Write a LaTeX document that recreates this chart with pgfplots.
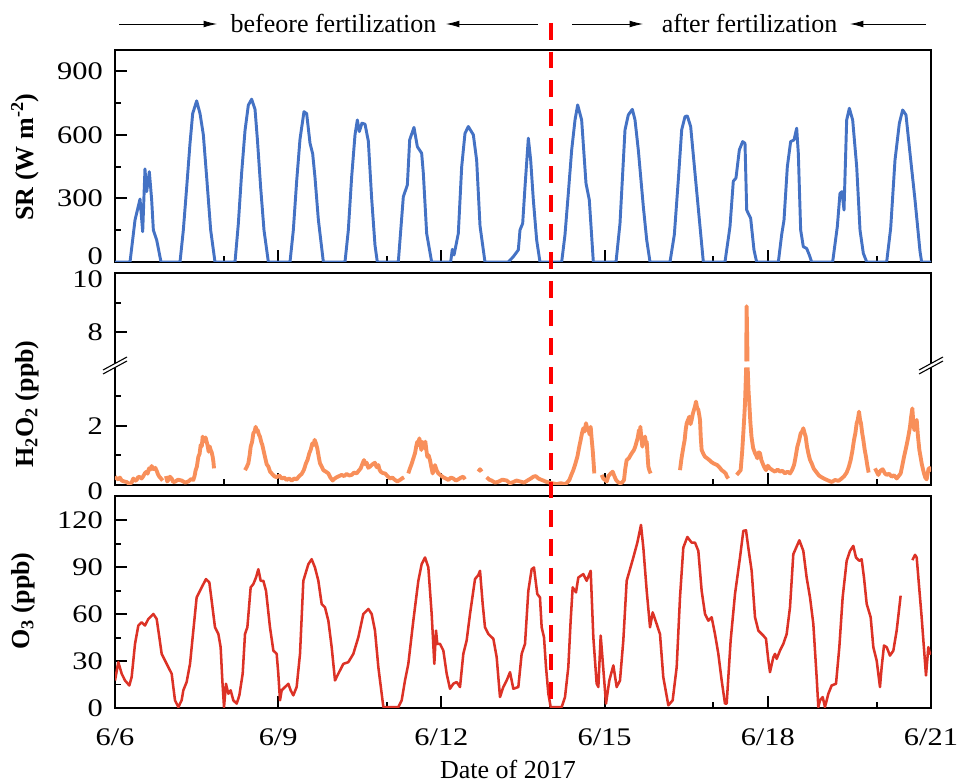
\documentclass[border=0pt]{standalone}
\usepackage{pgfplots}
\pgfplotsset{compat=1.18}
\usepackage{graphicx}
\usepackage{fontspec}
\setmainfont{Liberation Serif}
\usetikzlibrary{arrows.meta}

\definecolor{srblue}{RGB}{68,114,196}
\definecolor{hoorange}{RGB}{248,143,90}
\definecolor{othree}{RGB}{220,50,38}

\newcommand{\lbl}{\fontsize{19.5}{23}\selectfont}
% tick labels: the reference digits are set wide
\newcommand{\tl}[1]{\scalebox{1.2}[1]{#1}}

\pgfplotsset{
  panel/.style={
    scale only axis, width=612pt, height=159pt,
    anchor=south west,
    xmin=0, xmax=15,
    xtick={0,3,6,9,12,15}, minor xtick={2,5,8,11,14},
    tick pos=left, tick align=inside,
    major tick length=9pt, minor tick length=4.5pt,
    tick style={black, line width=1.4pt},
    axis line style={line width=1.6pt},
    tick label style={font=\fontsize{19}{22}\selectfont, inner sep=0pt},
    yticklabel style={anchor=east, xshift=-9pt},
    xticklabel style={yshift=-15pt},
    xticklabels={},
    unbounded coords=jump,
  }
}

\begin{document}
\begin{tikzpicture}
\useasboundingbox (0,0) rectangle (718.5pt,587.25pt);

% SR
\begin{axis}[panel, at={(86.25pt,390.75pt)},
  ymin=0, ymax=1000, ytick={300,600,900}, minor ytick={150,450,750},
  yticklabels={\tl{300},\tl{600},\tl{900}},
  extra y ticks={0}, extra y tick labels={\tl{0}},
  extra y tick style={yticklabel style={yshift=4.5pt}}]
\addplot[srblue, line width=2.2pt, line join=round] coordinates {
(0,0)(0.276,0)(0.368,198)(0.460,297)(0.509,143)(0.551,439)(0.582,332)(0.631,426)(0.674,293)(0.705,151)(0.766,104)(0.846,0)
(1.195,0)(1.256,150)(1.317,350)(1.379,560)(1.428,700)(1.501,760)(1.563,700)(1.624,600)(1.685,400)(1.759,150)(1.838,0)
(2.206,0)(2.267,180)(2.328,420)(2.390,620)(2.451,740)(2.512,768)(2.574,720)(2.617,580)(2.678,350)(2.739,150)(2.819,0)
(3.217,0)(3.278,150)(3.339,380)(3.401,580)(3.474,709)(3.523,700)(3.585,560)(3.634,510)(3.676,400)(3.738,200)(3.830,0)
(4.228,0)(4.289,150)(4.350,400)(4.412,600)(4.455,670)(4.491,615)(4.540,655)(4.596,650)(4.657,570)(4.718,300)(4.779,80)(4.822,0)
(5.208,0)(5.300,308)(5.374,363)(5.417,576)(5.496,635)(5.558,544)(5.637,513)(5.668,418)(5.729,135)(5.821,0)
(6.170,0)(6.201,60)(6.232,33)(6.311,135)(6.373,450)(6.434,607)(6.495,639)(6.587,600)(6.648,480)(6.710,170)(6.801,0)
(7.230,0)(7.322,25)(7.414,57)(7.445,151)(7.494,182)(7.537,355)(7.598,584)(7.641,481)(7.690,293)(7.751,104)(7.812,0)
(8.211,0)(8.272,129)(8.333,324)(8.395,529)(8.456,670)(8.505,741)(8.578,670)(8.658,371)(8.719,293)(8.793,0)
(9.210,0)(9.283,182)(9.375,623)(9.436,694)(9.510,720)(9.559,670)(9.620,528)(9.712,261)(9.774,104)(9.835,0)
(10.202,0)(10.282,129)(10.355,387)(10.417,623)(10.478,686)(10.521,689)(10.582,639)(10.662,418)(10.754,167)(10.815,0)
(11.213,0)(11.305,167)(11.366,381)(11.415,396)(11.477,529)(11.538,568)(11.581,560)(11.612,245)(11.685,206)(11.746,57)(11.795,0)
(12.194,0)(12.255,129)(12.298,198)(12.359,449)(12.420,568)(12.482,576)(12.531,631)(12.561,513)(12.604,151)(12.653,72)(12.714,64)(12.763,33)(12.806,0)
(13.192,0)(13.278,167)(13.327,324)(13.364,332)(13.401,245)(13.450,670)(13.499,725)(13.560,670)(13.634,450)(13.695,151)(13.756,41)(13.818,0)
(14.185,0)(14.259,160)(14.338,480)(14.418,654)(14.479,717)(14.540,694)(14.614,513)(14.706,293)(14.798,50)(14.828,0)(15,0)
};
\end{axis}

% H2O2 (broken axis: values above 6.9 are drawn 2.86 lower)
\begin{axis}[panel, at={(86.25pt,223.5pt)},
  ymin=0, ymax=7.14, ytick={2,5.14}, yticklabels={\tl{2},\tl{8}},
  minor ytick={1,3,6.14},
  extra y ticks={0,7.14}, extra y tick labels={\tl{0},\tl{10}},
  extra y tick style={yticklabel style={yshift=-5pt}}]
\addplot[hoorange, line width=2.9pt, line join=round] coordinates {
(0.000,0.28)(0.030,0.22)(0.061,0.19)(0.090,0.25)(0.123,0.15)(0.170,0.12)(0.214,0.10)(0.260,0.04)(0.306,0.08)(0.320,0.15)(0.337,0.22)(0.365,0.14)(0.398,0.17)(0.430,0.28)(0.460,0.26)(0.490,0.22)(0.521,0.30)(0.550,0.40)(0.582,0.45)(0.600,0.38)(0.625,0.56)(0.650,0.52)(0.674,0.64)(0.695,0.55)(0.717,0.53)(0.740,0.58)(0.766,0.48)(0.790,0.36)(0.815,0.28)(0.845,0.22)(0.876,0.15)
(0.90,nan)
(0.938,0.30)(0.960,0.12)(0.980,0.17)(1.010,0.28)(1.042,0.22)(1.070,0.10)(1.103,0.11)(1.160,0.18)(1.225,0.15)(1.290,0.08)(1.348,0.12)(1.400,0.20)(1.440,0.17)(1.462,0.30)(1.483,0.50)(1.505,0.62)(1.532,0.95)(1.555,1.05)(1.575,1.35)(1.595,1.30)(1.612,1.63)(1.628,1.45)(1.642,1.52)(1.665,1.60)(1.685,1.46)(1.705,1.30)(1.722,1.12)(1.740,1.30)(1.759,1.18)(1.778,1.10)(1.795,0.95)(1.808,0.80)(1.820,0.56)
(2.0,nan)
(2.390,0.50)(2.420,0.60)(2.451,0.73)(2.475,1.00)(2.494,1.29)(2.520,1.45)(2.543,1.74)(2.565,1.80)(2.586,1.96)(2.605,1.80)(2.623,1.85)(2.645,1.70)(2.665,1.63)(2.688,1.45)(2.708,1.35)(2.732,1.15)(2.757,0.95)(2.788,0.70)(2.819,0.62)(2.850,0.45)(2.880,0.39)(2.925,0.30)(2.972,0.26)(3.020,0.32)(3.064,0.22)(3.110,0.25)(3.156,0.17)(3.200,0.22)(3.248,0.15)(3.295,0.22)(3.339,0.19)(3.385,0.30)(3.431,0.37)(3.470,0.50)(3.511,0.73)(3.540,0.85)(3.572,1.07)(3.600,1.20)(3.627,1.40)(3.650,1.35)(3.670,1.52)(3.695,1.40)(3.719,1.23)(3.745,0.95)(3.768,0.73)(3.800,0.62)(3.830,0.50)(3.875,0.45)(3.922,0.39)(3.960,0.25)(4.002,0.15)(4.040,0.22)(4.075,0.26)(4.120,0.30)(4.167,0.34)(4.210,0.30)(4.259,0.37)(4.305,0.32)(4.350,0.34)(4.395,0.42)(4.442,0.39)(4.480,0.48)(4.516,0.56)(4.545,0.70)(4.577,0.84)(4.600,0.70)(4.626,0.75)(4.655,0.58)(4.688,0.62)(4.735,0.70)(4.779,0.75)(4.810,0.60)(4.841,0.67)(4.862,0.52)(4.884,0.45)(4.925,0.40)(4.963,0.39)(5.010,0.30)(5.055,0.22)(5.100,0.25)(5.147,0.17)(5.190,0.12)(5.239,0.17)(5.275,0.22)(5.312,0.26)
(5.35,nan)
(5.392,0.39)(5.420,0.55)(5.453,0.71)(5.485,0.90)(5.515,1.07)(5.537,1.30)(5.558,1.46)(5.575,1.35)(5.594,1.57)(5.612,1.40)(5.631,1.18)(5.650,1.45)(5.668,1.40)(5.685,1.25)(5.705,1.46)(5.722,1.20)(5.741,0.95)(5.765,1.00)(5.790,0.84)(5.815,0.60)(5.839,0.39)(5.860,0.50)(5.882,0.67)(5.912,0.50)(5.944,0.39)(5.990,0.32)(6.036,0.26)(6.080,0.22)(6.127,0.17)(6.175,0.25)(6.219,0.22)(6.265,0.15)(6.311,0.19)(6.360,0.25)(6.403,0.28)(6.434,0.19)
(6.55,nan)
(6.679,0.45)(6.710,0.53)(6.740,0.45)
(6.78,nan)
(6.832,0.26)(6.880,0.18)(6.924,0.15)(6.985,0.08)(7.047,0.11)(7.120,0.18)(7.200,0.15)(7.260,0.06)(7.322,0.10)(7.380,0.15)(7.445,0.12)(7.520,0.08)(7.598,0.17)(7.645,0.22)(7.690,0.28)(7.735,0.30)(7.782,0.22)(7.830,0.18)(7.874,0.15)(7.935,0.10)(7.996,0.08)(8.060,0.05)(8.119,0.03)(8.195,0.06)(8.272,0.03)(8.312,0.08)(8.352,0.17)(8.390,0.35)(8.425,0.50)(8.460,0.70)(8.499,0.95)(8.530,1.25)(8.560,1.52)(8.585,1.75)(8.609,1.91)(8.632,1.80)(8.658,2.08)(8.682,1.90)(8.707,1.85)(8.725,1.70)(8.744,1.96)(8.762,1.55)(8.781,1.18)(8.796,0.80)(8.811,0.39)
(8.88,nan)
(8.946,0.34)(8.975,0.22)(9.007,0.17)(9.040,0.12)(9.069,0.30)(9.108,0.38)(9.148,0.45)(9.180,0.30)(9.210,0.17)(9.245,0.10)(9.283,0.06)(9.320,0.08)(9.357,0.17)(9.380,0.55)(9.406,0.84)(9.445,0.90)(9.479,1.01)(9.510,1.10)(9.540,1.18)(9.565,1.30)(9.589,1.46)(9.610,1.60)(9.632,1.85)(9.645,1.70)(9.657,1.96)(9.675,1.60)(9.694,1.29)(9.720,1.50)(9.743,1.63)(9.760,1.40)(9.774,1.46)(9.790,1.00)(9.804,0.62)(9.825,0.48)(9.847,0.39)
(10.1,nan)
(10.386,0.50)(10.410,0.85)(10.429,1.07)(10.450,1.30)(10.472,1.52)(10.490,1.85)(10.509,2.08)(10.535,2.20)(10.558,2.30)(10.580,2.05)(10.600,2.19)(10.622,2.40)(10.643,2.53)(10.662,2.65)(10.680,2.81)(10.700,2.60)(10.723,2.53)(10.740,2.35)(10.754,2.19)(10.768,1.60)(10.784,1.18)(10.815,1.05)(10.846,0.95)(10.885,0.90)(10.925,0.84)(10.960,0.78)(10.999,0.73)(11.035,0.70)(11.072,0.67)(11.110,0.60)(11.152,0.50)(11.190,0.45)(11.226,0.39)(11.250,0.28)(11.275,0.22)
(11.35,nan)
(11.428,0.34)(11.465,0.42)(11.501,0.50)(11.528,1.10)(11.550,1.74)(11.568,2.30)(11.581,2.75)(11.603,3.96)
(11.604,nan)
(11.603,4.16)(11.611,6.02)(11.628,4.16)
(11.629,nan)
(11.630,3.96)(11.645,3.20)(11.660,2.75)(11.680,2.10)(11.700,1.63)(11.730,1.25)(11.765,1.07)(11.785,1.00)(11.808,0.90)(11.832,1.10)(11.857,1.07)(11.880,0.85)(11.905,0.73)(11.935,0.60)(11.967,0.50)(12.000,0.65)(12.040,0.56)(12.085,0.50)(12.132,0.45)(12.180,0.52)(12.224,0.45)(12.270,0.48)(12.316,0.39)(12.360,0.45)(12.408,0.39)(12.445,0.50)(12.482,0.67)(12.512,0.95)(12.543,1.29)(12.575,1.50)(12.604,1.74)(12.630,1.80)(12.653,1.91)(12.675,1.75)(12.696,1.63)(12.720,1.30)(12.745,1.07)(12.775,0.85)(12.806,0.73)(12.845,0.55)(12.886,0.45)(12.940,0.32)(12.990,0.26)(13.050,0.20)(13.113,0.15)(13.175,0.10)(13.236,0.17)(13.300,0.14)(13.358,0.22)(13.405,0.30)(13.450,0.42)(13.488,0.60)(13.523,0.84)(13.555,1.15)(13.585,1.52)(13.610,1.75)(13.634,2.08)(13.655,2.20)(13.677,2.47)(13.695,2.20)(13.713,2.08)(13.735,1.75)(13.756,1.52)(13.780,1.20)(13.805,0.95)(13.830,0.65)(13.854,0.42)
(13.9,nan)
(13.971,0.56)(14.000,0.45)(14.032,0.34)(14.070,0.48)(14.112,0.53)(14.150,0.40)(14.185,0.34)(14.230,0.38)(14.277,0.28)(14.320,0.33)(14.369,0.22)(14.405,0.30)(14.442,0.39)(14.472,0.65)(14.504,0.95)(14.535,1.20)(14.565,1.46)(14.590,1.70)(14.614,1.96)(14.635,2.30)(14.657,2.58)(14.675,2.10)(14.694,1.85)(14.715,2.05)(14.737,2.19)(14.760,1.65)(14.786,1.18)(14.808,0.95)(14.828,0.73)(14.850,0.55)(14.871,0.39)(14.895,0.25)(14.920,0.19)(14.940,0.40)(14.957,0.56)(14.980,0.50)(15.000,0.62)
};
\end{axis}

% O3
\begin{axis}[panel, at={(86.25pt,56.25pt)},
  ymin=0, ymax=135.5, ytick={0,30,60,90,120}, minor ytick={15,45,75,105},
  yticklabels={\tl{0},\tl{30},\tl{60},\tl{90},\tl{120}},
  xticklabels={\tl{6/6},\tl{6/9},\tl{6/12},\tl{6/15},\tl{6/18},\tl{6/21}}]
\addplot[othree, line width=1.9pt, line join=round] coordinates {
(0.000,17.6)(0.061,29.3)(0.123,21.9)(0.184,17.6)(0.263,14.4)(0.306,19.7)(0.368,41.0)(0.429,52.7)(0.490,54.8)(0.551,52.7)(0.613,56.9)(0.705,60.1)(0.766,56.9)(0.815,45.2)(0.858,34.6)(0.950,28.2)(1.042,21.9)(1.072,13.4)(1.103,4.9)(1.164,0.6)(1.225,4.9)(1.256,11.3)(1.317,16.6)(1.379,28.2)(1.440,49.5)(1.501,70.7)(1.593,77.1)(1.673,82.4)(1.734,80.3)(1.777,68.6)(1.838,51.6)(1.900,47.3)(1.942,38.9)(1.973,17.6)(2.004,0.6)(2.040,15.5)(2.083,9.1)(2.126,11.3)(2.175,4.9)(2.237,2.8)(2.286,8.1)(2.347,21.9)(2.390,47.3)(2.433,51.6)(2.494,77.1)(2.543,79.2)(2.592,83.4)(2.635,88.7)(2.678,81.3)(2.727,81.3)(2.776,74.9)(2.849,51.6)(2.911,36.7)(2.972,34.6)(3.002,21.9)(3.033,4.9)(3.064,11.3)(3.125,13.4)(3.186,15.5)(3.229,11.3)(3.278,8.1)(3.339,13.4)(3.401,34.6)(3.462,81.3)(3.554,91.9)(3.615,95.1)(3.676,89.8)(3.738,81.3)(3.799,66.5)(3.860,64.3)(3.922,55.8)(3.983,38.9)(4.044,17.6)(4.105,21.9)(4.197,28.2)(4.289,29.3)(4.381,34.6)(4.473,45.2)(4.565,60.1)(4.657,63.3)(4.718,60.1)(4.779,49.5)(4.841,26.1)(4.933,0.6)(5.025,0.6)(5.208,0.6)(5.270,4.9)(5.331,17.6)(5.392,28.2)(5.484,55.8)(5.576,81.3)(5.637,91.9)(5.699,96.2)(5.760,89.8)(5.821,60.1)(5.870,28.2)(5.901,49.5)(5.925,41.0)(5.974,41.0)(6.036,36.7)(6.097,21.9)(6.158,12.3)(6.219,15.5)(6.281,16.6)(6.342,13.4)(6.403,34.6)(6.464,43.1)(6.526,60.1)(6.618,82.4)(6.679,85.0)(6.710,87.7)(6.759,66.5)(6.801,51.6)(6.863,47.3)(6.955,44.2)(7.016,32.5)(7.077,7.0)(7.138,13.4)(7.200,17.6)(7.261,22.9)(7.322,12.3)(7.414,13.4)(7.475,34.6)(7.537,41.0)(7.598,74.9)(7.659,88.7)(7.702,89.8)(7.763,72.8)(7.812,70.7)(7.843,51.6)(7.886,45.2)(7.923,26.1)(7.966,9.1)(8.009,0.6)(8.211,0.6)(8.272,7.0)(8.333,26.1)(8.376,55.8)(8.413,77.1)(8.474,73.9)(8.517,83.4)(8.609,85.6)(8.670,81.3)(8.744,87.7)(8.793,45.2)(8.854,15.5)(8.885,13.4)(8.928,46.3)(8.964,30.4)(9.026,2.8)(9.087,17.6)(9.161,27.2)(9.222,13.4)(9.283,17.6)(9.344,43.1)(9.406,81.3)(9.467,88.7)(9.528,96.2)(9.602,105.7)(9.669,117.0)(9.712,102.5)(9.774,74.9)(9.835,51.6)(9.884,61.1)(9.957,53.7)(10.018,47.3)(10.079,19.7)(10.172,1.7)(10.251,4.9)(10.325,26.1)(10.386,70.7)(10.447,102.5)(10.521,109.3)(10.600,105.7)(10.662,105.7)(10.723,100.4)(10.784,74.9)(10.846,60.1)(10.907,55.8)(10.968,58.0)(11.029,47.3)(11.091,34.6)(11.152,17.6)(11.213,2.8)(11.244,2.8)(11.317,43.1)(11.397,72.8)(11.489,96.2)(11.550,113.2)(11.599,113.6)(11.642,102.5)(11.703,87.7)(11.765,58.0)(11.826,49.5)(11.918,46.3)(11.967,44.2)(12.010,30.4)(12.040,22.9)(12.102,32.5)(12.132,34.6)(12.163,31.4)(12.224,36.7)(12.286,41.0)(12.347,47.3)(12.408,64.3)(12.469,98.3)(12.580,107.2)(12.653,100.4)(12.714,83.4)(12.776,70.7)(12.837,53.7)(12.898,19.7)(12.929,0.6)(12.960,4.9)(13.009,7.0)(13.051,0.6)(13.113,9.1)(13.174,14.4)(13.254,15.5)(13.315,38.9)(13.376,70.7)(13.450,94.1)(13.511,100.4)(13.572,103.6)(13.621,96.2)(13.682,94.1)(13.725,95.1)(13.768,83.4)(13.818,66.5)(13.891,58.0)(13.940,38.9)(14.001,30.4)(14.062,13.4)(14.093,26.1)(14.136,39.9)(14.185,38.9)(14.246,33.5)(14.308,36.7)(14.369,49.5)(14.442,71.8)
(14.55,nan)
(14.657,94.5)(14.706,97.9)(14.737,96.2)(14.828,58.0)(14.908,20.8)(14.951,38.9)(14.982,34.6)(15.000,36.0)
};
\end{axis}

% annotations, in pixel units of the reference (origin top left)
\begin{scope}[x=0.75pt, y=-0.75pt, shift={(0,587.25pt)}]
  % y labels
  \node[rotate=90, font=\lbl\bfseries] at (25,157) {SR (W m\textsuperscript{-2})};
  \node[rotate=90, font=\lbl\bfseries] at (27,404) {H\textsubscript{2}O\textsubscript{2} (ppb)};
  \node[rotate=90, font=\lbl\bfseries] at (23,601) {O\textsubscript{3} (ppb)};
  % x label
  \node[anchor=base, font=\lbl, inner sep=0pt] at (508,778) {Date of 2017};
  % period labels with arrows
  \node[anchor=base, font=\lbl, inner sep=0pt] at (333.5,33) {befeore fertilization};
  \node[anchor=base, font=\lbl, inner sep=0pt] at (749.5,33) {after fertilization};
  \draw[line width=0.6pt, -{Latex[length=10pt,width=5pt]}] (119,24) -- (217,24);
  \draw[line width=0.6pt, -{Latex[length=10pt,width=5pt]}] (538,24) -- (446,24);
  \draw[line width=0.6pt, -{Latex[length=10pt,width=5pt]}] (572,24) -- (643,24);
  \draw[line width=0.6pt, -{Latex[length=10pt,width=5pt]}] (926,24) -- (850,24);
  % axis break marks
  \foreach \bx in {115,931} {
    \fill[white] (\bx-12,370) -- (\bx+12,357) -- (\bx+12,361) -- (\bx-12,374) -- cycle;
    \draw[line width=0.8pt] (\bx-12,370) -- (\bx+12,357);
    \draw[line width=0.8pt] (\bx-12,374) -- (\bx+12,361);
  }
  % fertilization date
  \draw[red, line width=2.3pt, dash pattern=on 12.5pt off 9pt] (551,23) -- (551,708);
\end{scope}
\end{tikzpicture}
\end{document}
